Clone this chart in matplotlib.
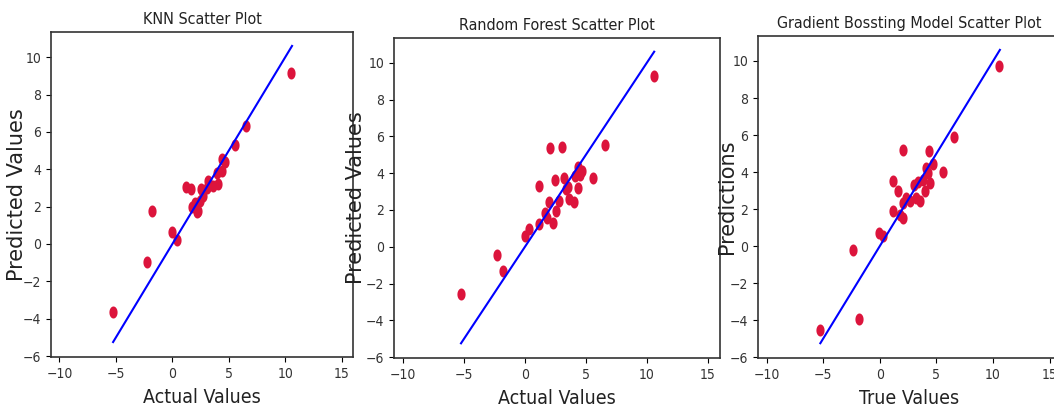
import numpy as np
import matplotlib
matplotlib.use('Agg')
import matplotlib.pyplot as plt
from matplotlib import font_manager

# Datos
knn_actual = [-5.24, -2.28, -1.78, 0.0, 0.38, 1.18, 1.63, 1.72, 2.0, 2.16, 2.3, 2.54, 2.46,
              2.75, 3.05, 3.2, 3.58, 4.08, 3.93, 4.38, 4.44, 4.67, 5.56, 6.54, 10.55]
knn_pred = [-3.66, -0.96, 1.79, 0.64, 0.2, 3.04, 2.96, 1.98, 2.2, 1.71, 1.75, 2.96, 2.29,
            2.55, 3.0, 3.39, 3.09, 3.21, 3.8, 4.57, 3.93, 4.38, 5.29, 6.3, 9.13]

rf_actual = [-5.29, -2.31, -1.82, 0.0, 0.36, 1.16, 1.16, 2.04, 1.96, 1.68, 1.79, 2.29, 2.45,
             2.53, 2.78, 3.0, 3.2, 3.33, 3.55, 3.58, 4.05, 4.38, 4.1, 4.35, 4.49, 4.68,
             5.59, 6.56, 10.6]
rf_pred = [-2.55, -0.47, -1.33, 0.56, 0.98, 3.31, 1.24, 5.38, 2.42, 1.82, 1.55, 1.31, 3.62,
           1.95, 2.49, 5.44, 3.71, 3.13, 3.22, 2.58, 2.42, 3.18, 3.82, 4.36, 3.91, 4.09,
           3.76, 5.53, 9.27]

gb_actual = [-5.3, -2.34, -1.83, -0.06, 0.3, 1.15, 1.15, 1.63, 2.04, 1.75, 2.01, 2.04, 2.31,
             2.69, 3.02, 3.17, 3.34, 3.55, 3.79, 4.02, 4.08, 4.23, 4.38, 4.41, 4.67, 5.56,
             6.54, 10.55]
gb_pred = [-4.54, -0.22, -3.96, 0.68, 0.56, 3.51, 1.87, 2.97, 5.19, 1.68, 2.31, 1.51, 2.58,
           2.43, 3.3, 2.58, 3.48, 2.41, 3.57, 2.99, 4.23, 3.93, 5.15, 3.39, 4.41, 4.02,
           5.91, 9.75]

line_ends = [-5.25, 10.6]

titulos = ['KNN Scatter Plot', 'Random Forest Scatter Plot', 'Gradient Bossting Model Scatter Plot']
xlabels = ['Actual Values', 'Actual Values', 'True Values']
ylabels = ['Predicted Values', 'Predicted Values', 'Predictions']

# Fuente estrecha si existe
nombres = {f.name for f in font_manager.fontManager.ttflist}
if 'Liberation Sans Narrow' in nombres:
    narrow = dict(family='Liberation Sans Narrow')
else:
    narrow = dict(family='DejaVu Sans', stretch='condensed')

# marcador eliptico (puntos aplastados como en la imagen)
t = np.linspace(0, 2 * np.pi, 40)
elipse = list(zip(0.68 * np.cos(t), np.sin(t)))

fig = plt.figure(figsize=(10.54, 4.12), dpi=100)
posiciones = [[0.0484, 0.1335, 0.2865, 0.789],
              [0.3738, 0.131, 0.3093, 0.777],
              [0.7192, 0.131, 0.2875, 0.7816]]
datos = [(knn_actual, knn_pred), (rf_actual, rf_pred), (gb_actual, gb_pred)]
pads = [-3, 0, -5]

for i in range(3):
    ax = fig.add_axes(posiciones[i])
    x, y = datos[i]
    ax.scatter(x, y, color='crimson', marker=elipse, s=75, linewidths=0)
    ax.plot(line_ends, line_ends, color='blue', lw=1.5)
    ax.set_xlim(-10.75, 16)
    ax.set_ylim(-6.05, 11.35)
    ax.set_xticks([-10, -5, 0, 5, 10, 15])
    ax.set_yticks([-6, -4, -2, 0, 2, 4, 6, 8, 10])
    for lab in ax.get_xticklabels() + ax.get_yticklabels():
        lab.set_fontproperties(font_manager.FontProperties(size=10, **narrow))
        lab.set_color('#333333')
    ax.set_title(titulos[i], fontsize=11.5, color='#222222', **narrow)
    ax.set_xlabel(xlabels[i], fontsize=14, color='#222222', labelpad=5, **narrow)
    ax.set_ylabel(ylabels[i], fontsize=15, color='#222222', family='DejaVu Sans',
                  labelpad=pads[i])
    for sp in ax.spines.values():
        sp.set_color('#333333')
        sp.set_linewidth(1.2)

fig.savefig('out.png', dpi=100)
